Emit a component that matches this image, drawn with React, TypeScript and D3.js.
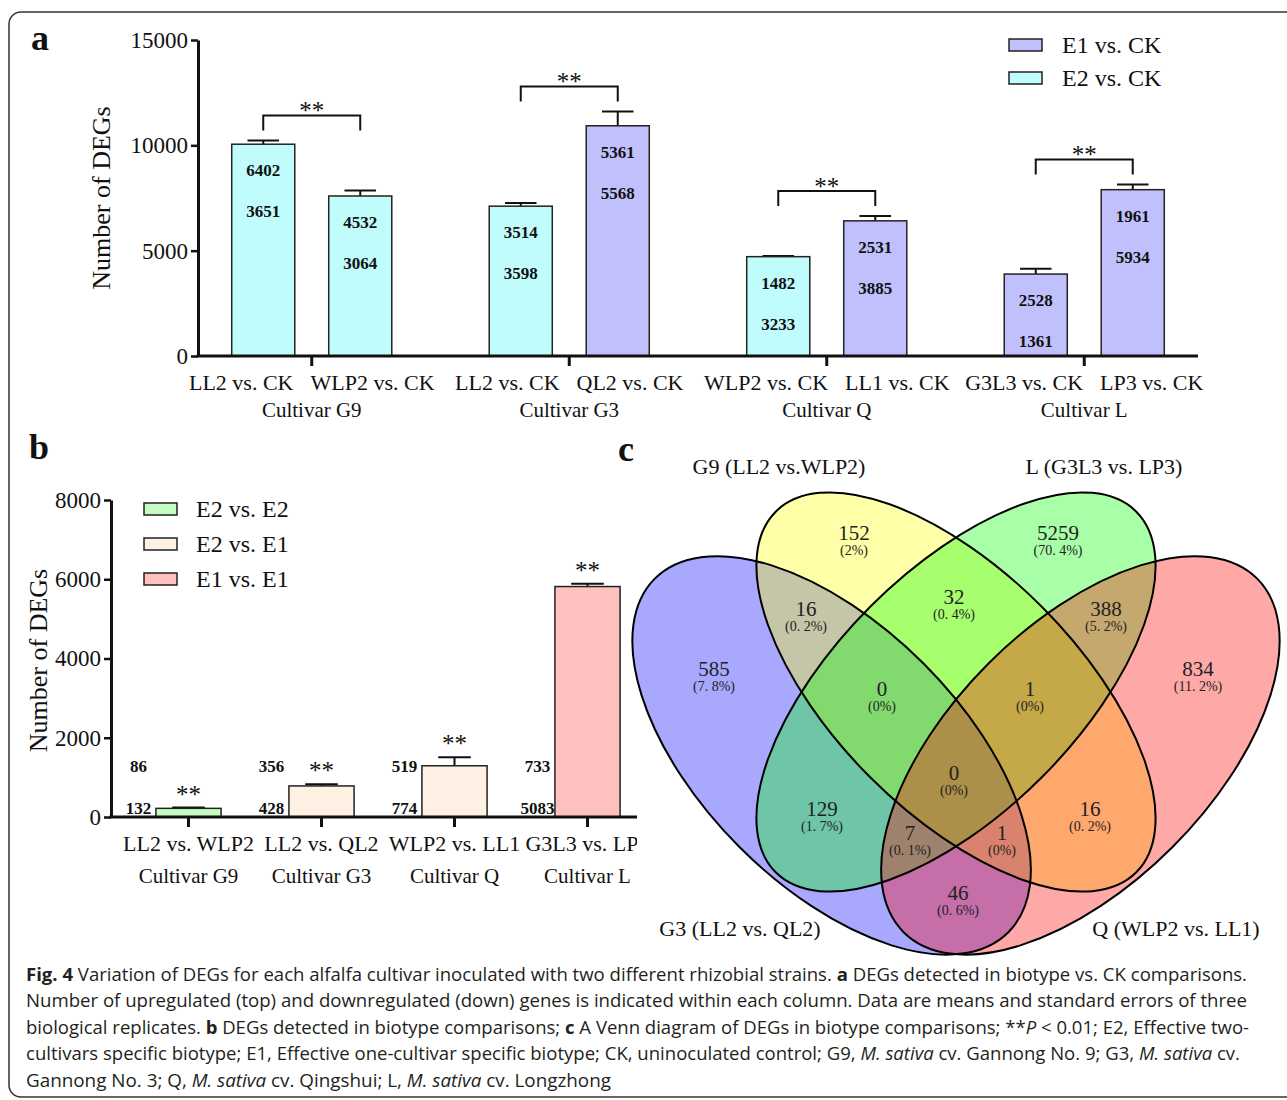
import React, { useEffect, useRef } from 'react';
import * as d3 from 'd3';

// panel a: biotype vs. CK
const cultivars = ['Cultivar G9', 'Cultivar G3', 'Cultivar Q', 'Cultivar L'];
const aComparisons = ['LL2 vs. CK', 'WLP2 vs. CK', 'LL2 vs. CK', 'QL2 vs. CK', 'WLP2 vs. CK', 'LL1 vs. CK', 'G3L3 vs. CK', 'LP3 vs. CK'];
const aBiotypes = ['E2 vs. CK', 'E2 vs. CK', 'E2 vs. CK', 'E1 vs. CK', 'E2 vs. CK', 'E1 vs. CK', 'E1 vs. CK', 'E1 vs. CK'];
const aUp = [6402, 4532, 3514, 5361, 1482, 2531, 2528, 1961];
const aDown = [3651, 3064, 3598, 5568, 3233, 3885, 1361, 5934];
const aSE = [180, 260, 150, 680, 30, 230, 250, 250];
const aLegend = ['E1 vs. CK', 'E2 vs. CK'];
const aTicks = [0, 5000, 10000, 15000];

// panel b: biotype vs. biotype
const bComparisons = ['LL2 vs. WLP2', 'LL2 vs. QL2', 'WLP2 vs. LL1', 'G3L3 vs. LP3'];
const bTypes = ['E2 vs. E2', 'E2 vs. E1', 'E2 vs. E1', 'E1 vs. E1'];
const bUp = [86, 356, 519, 733];
const bDown = [132, 428, 774, 5083];
const bSE = [20, 40, 215, 70];
const bLegend = ['E2 vs. E2', 'E2 vs. E1', 'E1 vs. E1'];
const bTicks = [0, 2000, 4000, 6000, 8000];

// panel c: venn (set order G3, G9, L, Q)
const vennSets = ['G3 (LL2 vs. QL2)', 'G9 (LL2 vs.WLP2)', 'L (G3L3 vs. LP3)', 'Q (WLP2 vs. LL1)'];
const vennMasks = ['1000', '0100', '0010', '0001', '1100', '0110', '0011', '1110', '0111', '1010', '1111', '0101', '1011', '1101', '1001'];
const vennCounts = [585, 152, 5259, 834, 16, 32, 388, 0, 1, 129, 0, 16, 7, 1, 46];

const captionLines: [string, string][][] = [
  [['Fig. 4', 'b'], [' Variation of DEGs for each alfalfa cultivar inoculated with two different rhizobial strains. ', ''], ['a', 'b'], [' DEGs detected in biotype vs. CK comparisons.', '']],
  [['Number of upregulated (top) and downregulated (down) genes is indicated within each column. Data are means and standard errors of three', '']],
  [['biological replicates. ', ''], ['b', 'b'], [' DEGs detected in biotype comparisons; ', ''], ['c', 'b'], [' A Venn diagram of DEGs in biotype comparisons; **', ''], ['P', 'i'], [' < 0.01; E2, Effective two-', '']],
  [['cultivars specific biotype; E1, Effective one-cultivar specific biotype; CK, uninoculated control; G9, ', ''], ['M. sativa', 'i'], [' cv. Gannong No. 9; G3, ', ''], ['M. sativa', 'i'], [' cv.', '']],
  [['Gannong No. 3; Q, ', ''], ['M. sativa', 'i'], [' cv. Qingshui; L, ', ''], ['M. sativa', 'i'], [' cv. Longzhong', '']],
];
const captionWidths = [1221, 1221, 1223, 1214, 585];

const SERIF = "'Liberation Serif', 'Times New Roman', serif";
const INK = '#111';

function styleAxis(g, size) {
  g.attr('font-family', SERIF).attr('font-size', size);
  g.select('.domain').attr('stroke', INK).attr('stroke-width', 3);
  g.selectAll('.tick line').attr('stroke', INK).attr('stroke-width', 2.5);
  g.selectAll('.tick text').attr('fill', INK);
}

function drawPanelA(svg) {
  const left = 198, right = 1198, top = 40, bottom = 356;
  const g = svg.append('g');
  const y = d3.scaleLinear().domain([0, 15000]).range([bottom, top]);
  const xg = d3.scaleBand().domain(cultivars).range([left - 15, right + 15]);
  const mid = xg.bandwidth() / 2;
  const xi = d3.scaleBand().domain(['0', '1']).range([mid - 97, mid + 97]).paddingInner(0.35).paddingOuter(0.175);
  const color = d3.scaleOrdinal<string>().domain(aLegend).range(['#c0c0fc', '#c0fcfc']);

  const bars = aComparisons.map((c, i) => ({
    c, cult: cultivars[Math.floor(i / 2)], k: String(i % 2),
    up: aUp[i], down: aDown[i], total: aUp[i] + aDown[i], se: aSE[i], type: aBiotypes[i],
  }));
  const bw = xi.bandwidth();
  const cx = (d) => (xg(d.cult) as number) + (xi(d.k) as number) + bw / 2;

  g.append('text').attr('x', 40).attr('y', 50).attr('text-anchor', 'middle')
    .attr('font-family', SERIF).attr('font-weight', 'bold').attr('font-size', 36).attr('fill', INK).text('a');

  // error bars
  const eb = g.append('g').attr('stroke', INK).attr('stroke-width', 2);
  bars.forEach((d) => {
    eb.append('line').attr('x1', cx(d)).attr('x2', cx(d)).attr('y1', y(d.total)).attr('y2', y(d.total + d.se));
    eb.append('line').attr('x1', cx(d) - bw / 4).attr('x2', cx(d) + bw / 4).attr('y1', y(d.total + d.se)).attr('y2', y(d.total + d.se));
  });

  g.append('g').selectAll('rect').data(bars).enter().append('rect')
    .attr('x', (d) => cx(d) - bw / 2).attr('width', bw)
    .attr('y', (d) => y(d.total)).attr('height', (d) => y(0) - y(d.total))
    .attr('fill', (d) => color(d.type)).attr('stroke', '#222').attr('stroke-width', 1.5);

  const lab = g.append('g').attr('font-family', SERIF).attr('font-weight', 'bold').attr('font-size', 17)
    .attr('text-anchor', 'middle').attr('fill', INK);
  bars.forEach((d) => {
    lab.append('text').attr('x', cx(d)).attr('y', y(d.total) + 32).text(d.up);
    lab.append('text').attr('x', cx(d)).attr('y', y(d.total) + 73).text(d.down);
  });

  // significance brackets
  cultivars.forEach((c) => {
    const pair = bars.filter((d) => d.cult === c);
    const yb = Math.min(...pair.map((d) => y(d.total + d.se))) - 25;
    const x1 = cx(pair[0]), x2 = cx(pair[1]);
    g.append('path').attr('d', `M${x1},${yb + 15}V${yb}H${x2}V${yb + 15}`)
      .attr('fill', 'none').attr('stroke', INK).attr('stroke-width', 2);
    g.append('text').attr('x', (x1 + x2) / 2).attr('y', yb + 4).attr('text-anchor', 'middle')
      .attr('font-family', SERIF).attr('font-size', 25).attr('fill', INK).text('**');
  });

  // axes
  const ya = g.append('g').attr('transform', `translate(${left},0)`)
    .call(d3.axisLeft(y).tickValues(aTicks).tickSize(7).tickSizeOuter(0).tickPadding(3).tickFormat(d3.format('d')));
  styleAxis(ya, 23);
  g.append('line').attr('x1', left - 1.5).attr('x2', right).attr('y1', bottom).attr('y2', bottom)
    .attr('stroke', INK).attr('stroke-width', 3);
  cultivars.forEach((c) => {
    const gx = (xg(c) as number) + mid;
    g.append('line').attr('x1', gx).attr('x2', gx).attr('y1', bottom).attr('y2', bottom + 10)
      .attr('stroke', INK).attr('stroke-width', 3);
    const pair = bars.filter((d) => d.cult === c);
    const t = g.append('text').attr('x', gx).attr('y', 390).attr('text-anchor', 'middle')
      .attr('font-family', SERIF).attr('font-size', 22).attr('fill', INK);
    t.append('tspan').text(pair[0].c);
    t.append('tspan').attr('dx', 17).text(pair[1].c);
    g.append('text').attr('x', gx).attr('y', 417).attr('text-anchor', 'middle')
      .attr('font-family', SERIF).attr('font-size', 21).attr('fill', INK).text(c);
  });

  g.append('text').attr('transform', `translate(110,${(top + bottom) / 2}) rotate(-90)`)
    .attr('text-anchor', 'middle').attr('font-family', SERIF).attr('font-size', 26).attr('fill', INK)
    .text('Number of DEGs');

  // legend
  aLegend.forEach((l, i) => {
    const ly = 45 + i * 33;
    g.append('rect').attr('x', 1009).attr('y', ly - 6).attr('width', 33).attr('height', 12)
      .attr('fill', color(l)).attr('stroke', '#222').attr('stroke-width', 1.5);
    g.append('text').attr('x', 1062).attr('y', ly + 8).attr('font-family', SERIF).attr('font-size', 24)
      .attr('fill', INK).text(l);
  });
}

function drawPanelB(svg) {
  const left = 111, right = 637, top = 500, bottom = 817;
  svg.append('clipPath').attr('id', 'clipB').append('rect').attr('x', 0).attr('y', 420).attr('width', right).attr('height', 480);
  const g = svg.append('g');
  const gc = g.append('g').attr('clip-path', 'url(#clipB)');
  const y = d3.scaleLinear().domain([0, 8000]).range([bottom, top]);
  const x = d3.scaleBand().domain(bComparisons).range([left + 11, left + 543]).paddingInner(0.51).paddingOuter(0.255);
  const color = d3.scaleOrdinal<string>().domain(bLegend).range(['#c4fcc4', '#fef0e2', '#ffc0c0']);
  const bw = x.bandwidth();
  const bars = bComparisons.map((c, i) => ({ c, cult: cultivars[i], up: bUp[i], down: bDown[i], total: bUp[i] + bDown[i], se: bSE[i], type: bTypes[i] }));
  const cx = (d) => (x(d.c) as number) + bw / 2;

  g.append('text').attr('x', 39).attr('y', 459).attr('text-anchor', 'middle')
    .attr('font-family', SERIF).attr('font-weight', 'bold').attr('font-size', 36).attr('fill', INK).text('b');

  bars.forEach((d) => {
    gc.append('line').attr('x1', cx(d)).attr('x2', cx(d)).attr('y1', y(d.total)).attr('y2', y(d.total + d.se))
      .attr('stroke', INK).attr('stroke-width', 2);
    gc.append('line').attr('x1', cx(d) - bw / 4).attr('x2', cx(d) + bw / 4).attr('y1', y(d.total + d.se)).attr('y2', y(d.total + d.se))
      .attr('stroke', INK).attr('stroke-width', 2);
  });
  gc.append('g').selectAll('rect').data(bars).enter().append('rect')
    .attr('x', (d) => cx(d) - bw / 2).attr('width', bw)
    .attr('y', (d) => y(d.total)).attr('height', (d) => y(0) - y(d.total))
    .attr('fill', (d) => color(d.type)).attr('stroke', '#222').attr('stroke-width', 1.5);

  bars.forEach((d) => {
    gc.append('text').attr('x', cx(d)).attr('y', y(d.total + d.se) - 5).attr('text-anchor', 'middle')
      .attr('font-family', SERIF).attr('font-size', 25).attr('fill', INK).text('**');
    gc.append('text').attr('x', cx(d) - 50).attr('y', bottom - 45).attr('text-anchor', 'middle')
      .attr('font-family', SERIF).attr('font-weight', 'bold').attr('font-size', 17).attr('fill', INK).text(d.up);
    gc.append('text').attr('x', cx(d) - 50).attr('y', bottom - 3).attr('text-anchor', 'middle')
      .attr('font-family', SERIF).attr('font-weight', 'bold').attr('font-size', 17).attr('fill', INK).text(d.down);
  });

  const ya = g.append('g').attr('transform', `translate(${left},0)`)
    .call(d3.axisLeft(y).tickValues(bTicks).tickSize(7).tickSizeOuter(0).tickPadding(3).tickFormat(d3.format('d')));
  styleAxis(ya, 23);
  gc.append('line').attr('x1', left - 1.5).attr('x2', right).attr('y1', bottom).attr('y2', bottom)
    .attr('stroke', INK).attr('stroke-width', 3);
  bars.forEach((d) => {
    gc.append('line').attr('x1', cx(d)).attr('x2', cx(d)).attr('y1', bottom).attr('y2', bottom + 10)
      .attr('stroke', INK).attr('stroke-width', 3);
    gc.append('text').attr('x', cx(d)).attr('y', 851).attr('text-anchor', 'middle')
      .attr('font-family', SERIF).attr('font-size', 22).attr('fill', INK).text(d.c);
    gc.append('text').attr('x', cx(d)).attr('y', 883).attr('text-anchor', 'middle')
      .attr('font-family', SERIF).attr('font-size', 21).attr('fill', INK).text(d.cult);
  });

  g.append('text').attr('transform', `translate(47,${(top + bottom) / 2 + 2}) rotate(-90)`)
    .attr('text-anchor', 'middle').attr('font-family', SERIF).attr('font-size', 26).attr('fill', INK)
    .text('Number of DEGs');

  bLegend.forEach((l, i) => {
    const ly = 509 + i * 35;
    g.append('rect').attr('x', 144).attr('y', ly - 6).attr('width', 33).attr('height', 12)
      .attr('fill', color(l)).attr('stroke', '#222').attr('stroke-width', 1.5);
    g.append('text').attr('x', 196).attr('y', ly + 8).attr('font-family', SERIF).attr('font-size', 24)
      .attr('fill', INK).text(l);
  });
}

function drawVenn(svg) {
  const c0 = [956, 692];
  // outer ellipses (G3, Q) are a bit fatter than the inner ones (G9, L)
  const layout = [
    { dx: -124.4, dy: 63.4, rot: 45, a: 250, b: 130, fill: '#0000ff' },
    { dx: 0, dy: 0, rot: 45, a: 255, b: 121, fill: '#ffff00' },
    { dx: 0, dy: 0, rot: -45, a: 255, b: 121, fill: '#00ff00' },
    { dx: 124.4, dy: 63.4, rot: -45, a: 250, b: 130, fill: '#ff0000' },
  ];
  const ells = layout.map((l) => ({ ...l, cx: c0[0] + l.dx, cy: c0[1] + l.dy, r: (l.rot * Math.PI) / 180 }));
  const g = svg.append('g');

  g.append('text').attr('x', 626).attr('y', 461).attr('text-anchor', 'middle')
    .attr('font-family', SERIF).attr('font-weight', 'bold').attr('font-size', 36).attr('fill', INK).text('c');

  ells.forEach((e) => {
    g.append('ellipse').attr('rx', e.a).attr('ry', e.b)
      .attr('transform', `translate(${e.cx},${e.cy}) rotate(${e.rot})`)
      .attr('fill', e.fill).attr('fill-opacity', 0.34);
  });
  ells.forEach((e) => {
    g.append('ellipse').attr('rx', e.a).attr('ry', e.b)
      .attr('transform', `translate(${e.cx},${e.cy}) rotate(${e.rot})`)
      .attr('fill', 'none').attr('stroke', '#000').attr('stroke-width', 2);
  });

  // label points: deepest grid point inside each region
  const inside = (e, x, y) => {
    const dx = x - e.cx, dy = y - e.cy;
    const s = dx * Math.cos(e.r) + dy * Math.sin(e.r);
    const t = -dx * Math.sin(e.r) + dy * Math.cos(e.r);
    return (s / e.a) ** 2 + (t / e.b) ** 2 <= 1;
  };
  const edge: number[][] = [];
  ells.forEach((e) => {
    for (let k = 0; k < 240; k++) {
      const th = (k / 240) * Math.PI * 2;
      const s = e.a * Math.cos(th), t = e.b * Math.sin(th);
      edge.push([e.cx + s * Math.cos(e.r) - t * Math.sin(e.r), e.cy + s * Math.sin(e.r) + t * Math.cos(e.r)]);
    }
  });
  const best: Record<string, { d: number; x: number; y: number }> = {};
  for (let x = 630; x < 1285; x += 4) {
    for (let y = 470; y < 960; y += 4) {
      const m = ells.map((e) => (inside(e, x, y) ? '1' : '0')).join('');
      if (m === '0000') continue;
      let dmin = Infinity;
      for (const p of edge) {
        const dd = (p[0] - x) ** 2 + (p[1] - y) ** 2;
        if (dd < dmin) dmin = dd;
      }
      if (!best[m] || dmin > best[m].d) best[m] = { d: dmin, x, y };
    }
  }
  const total = d3.sum(vennCounts);
  const pct = (v) => {
    const s = (Math.round((v / total) * 1000) / 10).toString();
    return `(${s.replace('.', '. ')}%)`;
  };
  vennMasks.forEach((m, i) => {
    const p = best[m];
    if (!p) return;
    g.append('text').attr('x', p.x).attr('y', p.y - 6).attr('text-anchor', 'middle')
      .attr('font-family', SERIF).attr('font-size', 21).attr('fill', '#222').text(vennCounts[i]);
    g.append('text').attr('x', p.x).attr('y', p.y + 9).attr('text-anchor', 'middle')
      .attr('font-family', SERIF).attr('font-size', 14).attr('fill', '#222')
      .style('white-space', 'pre').text(pct(vennCounts[i]));
  });

  const setPos = [[740, 936], [779, 474], [1104, 474], [1176, 936]];
  vennSets.forEach((s, i) => {
    g.append('text').attr('x', setPos[i][0]).attr('y', setPos[i][1]).attr('text-anchor', 'middle')
      .attr('font-family', SERIF).attr('font-size', 22).attr('fill', INK).text(s);
  });
}

function drawCaption(svg) {
  const g = svg.append('g').attr('font-family', "'Liberation Sans Narrow', 'Open Sans', sans-serif")
    .attr('font-size', 17.5).attr('fill', '#231f20');
  captionLines.forEach((segs, i) => {
    const t = g.append('text').attr('x', 26).attr('y', 981 + i * 26.4)
      .attr('textLength', captionWidths[i]).attr('lengthAdjust', 'spacingAndGlyphs')
      .style('white-space', 'pre');
    segs.forEach(([s, st]) => {
      const ts = t.append('tspan').text(s);
      if (st === 'b') ts.attr('font-weight', 'bold');
      if (st === 'i') ts.attr('font-style', 'italic');
    });
  });
}

export default function App() {
  const ref = useRef<SVGSVGElement>(null);
  useEffect(() => {
    const svg = d3.select(ref.current);
    svg.selectAll('*').remove();
    svg.append('rect').attr('x', 9).attr('y', 12).attr('width', 1300).attr('height', 1085).attr('rx', 12)
      .attr('fill', '#fff').attr('stroke', '#333').attr('stroke-width', 1.5);
    drawPanelA(svg);
    drawPanelB(svg);
    drawVenn(svg);
    drawCaption(svg);
  }, []);
  return (
    <svg ref={ref} width={1287} height={1100}
      style={{ position: 'absolute', left: 0, top: 0, background: '#fff' }} />
  );
}
